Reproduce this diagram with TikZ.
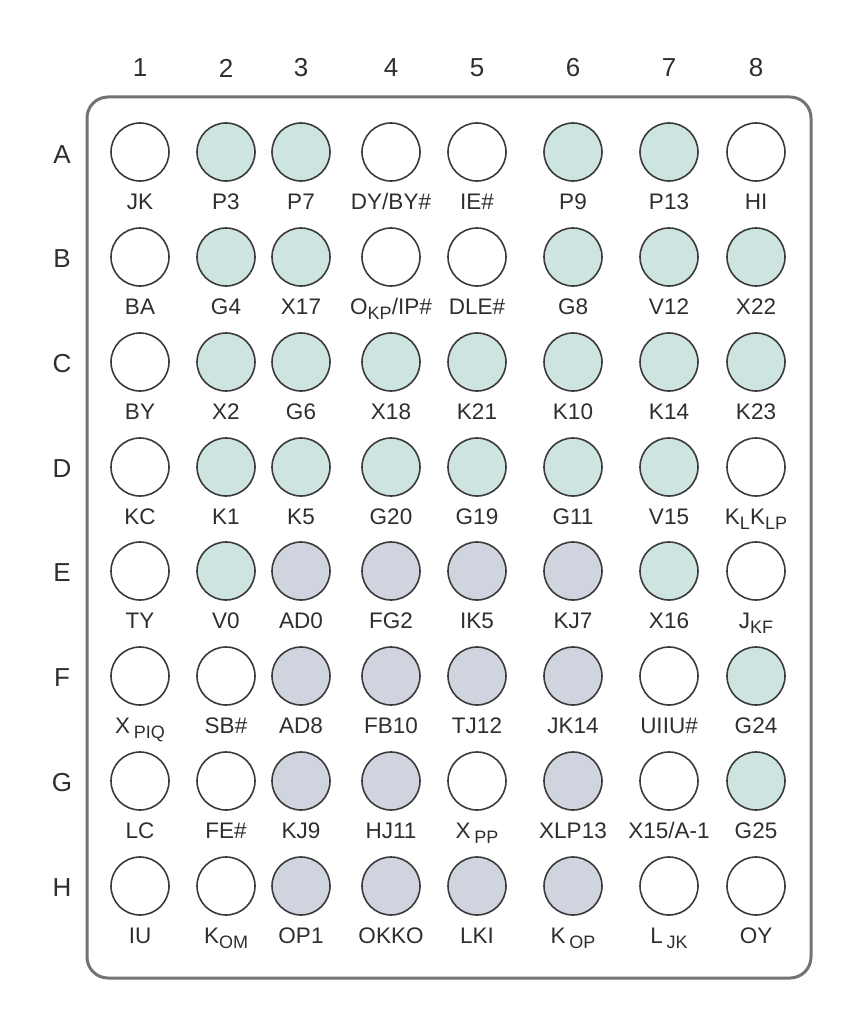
\documentclass[tikz,border=0pt]{standalone}
\usepackage{fontspec}
\setmainfont{Liberation Sans}
\definecolor{pinteal}{HTML}{CDE4E0}
\definecolor{pingray}{HTML}{D0D4DE}
\definecolor{pinline}{HTML}{3A3A3A}
\definecolor{framegray}{HTML}{737373}
\definecolor{txtgray}{HTML}{2E2E2E}
\newcommand\sbs[1]{\raisebox{-0.25em}{\fontsize{18}{18}\selectfont #1}}
\tikzset{
  pinball/.style={circle, draw=pinline, line width=1.6pt, minimum size=58pt, inner sep=0pt},
  W/.style={fill=white},
  T/.style={fill=pinteal},
  G/.style={fill=pingray},
  pinlab/.style={anchor=base, text=txtgray, font=\fontsize{22.5}{22.5}\selectfont, inner sep=0pt},
  header/.style={text=txtgray, font=\fontsize{26}{26}\selectfont, inner sep=0pt},
  frame/.style={draw=framegray, line width=3pt, rounded corners=21pt}
}
\newcommand\pin[5]{%
  \node[pinball, #4] (p#1) at (#2,#3) {};
  \node[pinlab] (l#1) at (#2,#3+57) {#5};
}
\begin{document}
\begin{tikzpicture}[x=1pt,y=-1pt]
\useasboundingbox (0,0) rectangle (863,1030);
\node[frame, minimum width=724pt, minimum height=881pt, inner sep=0pt] (board) at (449,537.5) {};
% column headers
\node[header] (c1) at (140,68) {1};
\node[header] (c2) at (226,68) {2};
\node[header] (c3) at (301,68) {3};
\node[header] (c4) at (391,68) {4};
\node[header] (c5) at (477,68) {5};
\node[header] (c6) at (573,68) {6};
\node[header] (c7) at (669,68) {7};
\node[header] (c8) at (756,68) {8};
% row headers
\node[header] (rA) at (62,155) {A};
\node[header] (rB) at (62,259) {B};
\node[header] (rC) at (62,364) {C};
\node[header] (rD) at (62,469) {D};
\node[header] (rE) at (62,573) {E};
\node[header] (rF) at (62,678) {F};
\node[header] (rG) at (62,783) {G};
\node[header] (rH) at (62,888) {H};
% row A
\pin{A1}{140}{152}{W}{JK}
\pin{A2}{226}{152}{T}{P3}
\pin{A3}{301}{152}{T}{P7}
\pin{A4}{391}{152}{W}{DY/BY\#}
\pin{A5}{477}{152}{W}{IE\#}
\pin{A6}{573}{152}{T}{P9}
\pin{A7}{669}{152}{T}{P13}
\pin{A8}{756}{152}{W}{HI}
% row B
\pin{B1}{140}{257}{W}{BA}
\pin{B2}{226}{257}{T}{G4}
\pin{B3}{301}{257}{T}{X17}
\pin{B4}{391}{257}{W}{O\sbs{KP}/IP\#}
\pin{B5}{477}{257}{W}{DLE\#}
\pin{B6}{573}{257}{T}{G8}
\pin{B7}{669}{257}{T}{V12}
\pin{B8}{756}{257}{T}{X22}
% row C
\pin{C1}{140}{362}{W}{BY}
\pin{C2}{226}{362}{T}{X2}
\pin{C3}{301}{362}{T}{G6}
\pin{C4}{391}{362}{T}{X18}
\pin{C5}{477}{362}{T}{K21}
\pin{C6}{573}{362}{T}{K10}
\pin{C7}{669}{362}{T}{K14}
\pin{C8}{756}{362}{T}{K23}
% row D
\pin{D1}{140}{467}{W}{KC}
\pin{D2}{226}{467}{T}{K1}
\pin{D3}{301}{467}{T}{K5}
\pin{D4}{391}{467}{T}{G20}
\pin{D5}{477}{467}{T}{G19}
\pin{D6}{573}{467}{T}{G11}
\pin{D7}{669}{467}{T}{V15}
\pin{D8}{756}{467}{W}{K\sbs{L}K\sbs{LP}}
% row E
\pin{E1}{140}{571}{W}{TY}
\pin{E2}{226}{571}{T}{V0}
\pin{E3}{301}{571}{G}{AD0}
\pin{E4}{391}{571}{G}{FG2}
\pin{E5}{477}{571}{G}{IK5}
\pin{E6}{573}{571}{G}{KJ7}
\pin{E7}{669}{571}{T}{X16}
\pin{E8}{756}{571}{W}{J\sbs{KF}}
% row F
\pin{F1}{140}{676}{W}{X\,\sbs{PIQ}}
\pin{F2}{226}{676}{W}{SB\#}
\pin{F3}{301}{676}{G}{AD8}
\pin{F4}{391}{676}{G}{FB10}
\pin{F5}{477}{676}{G}{TJ12}
\pin{F6}{573}{676}{G}{JK14}
\pin{F7}{669}{676}{W}{UIIU\#}
\pin{F8}{756}{676}{T}{G24}
% row G
\pin{G1}{140}{781}{W}{LC}
\pin{G2}{226}{781}{W}{FE\#}
\pin{G3}{301}{781}{G}{KJ9}
\pin{G4}{391}{781}{G}{HJ11}
\pin{G5}{477}{781}{W}{X\,\sbs{PP}}
\pin{G6}{573}{781}{G}{XLP13}
\pin{G7}{669}{781}{W}{X15/A-1}
\pin{G8}{756}{781}{T}{G25}
% row H
\pin{H1}{140}{886}{W}{IU}
\pin{H2}{226}{886}{W}{K\sbs{OM}}
\pin{H3}{301}{886}{G}{OP1}
\pin{H4}{391}{886}{G}{OKKO}
\pin{H5}{477}{886}{G}{LKI}
\pin{H6}{573}{886}{G}{K\,\sbs{OP}}
\pin{H7}{669}{886}{W}{L\,\sbs{JK}}
\pin{H8}{756}{886}{W}{OY}
\end{tikzpicture}
\end{document}
